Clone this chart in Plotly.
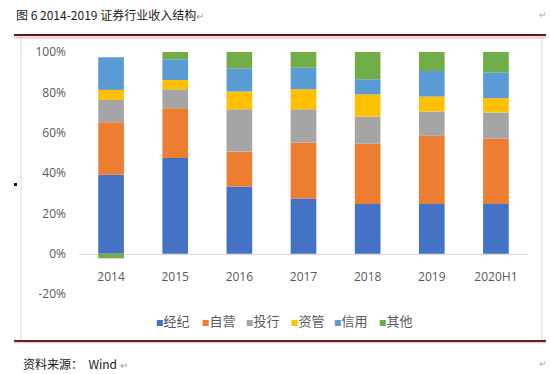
import plotly.graph_objects as go

categories = ["2014", "2015", "2016", "2017", "2018", "2019", "2020H1"]
brokerage = [39.1, 47.4, 33.3, 27.4, 24.6, 24.6, 24.6]      # 经纪
proprietary = [26.1, 24.7, 17.3, 27.7, 30.0, 33.8, 32.5]    # 自营
inv_banking = [11.0, 9.4, 21.0, 16.5, 13.4, 12.1, 12.9]     # 投行
asset_mgmt = [5.0, 4.6, 8.8, 9.9, 11.0, 7.4, 7.1]           # 资管
credit = [16.2, 10.3, 11.5, 10.7, 7.5, 12.7, 12.8]          # 信用
other = [-2.3, 3.6, 8.1, 7.8, 13.5, 9.4, 10.1]              # 其他

series_names = ["经纪", "自营", "投行", "资管", "信用", "其他"]
series_values = [brokerage, proprietary, inv_banking, asset_mgmt, credit, other]
colors = ["#4472C4", "#ED7D31", "#A5A5A5", "#FFC000", "#5B9BD5", "#70AD47"]
y_ticks = [-20, 0, 20, 40, 60, 80, 100]
y_ticktext = ["-20%", "0%", "20%", "40%", "60%", "80%", "100%"]

W, H = 550, 374
ML, MR, MT, MB = 79, 22, 52, 80
PW, PH = W - ML - MR, H - MT - MB


def px(x):
    return (x - ML) / PW


def py(y):
    return (H - MB - y) / PH


fig = go.Figure()
for name, vals, col in zip(series_names, series_values, colors):
    fig.add_trace(go.Bar(x=categories, y=vals, name=name,
                         marker=dict(color=col, line=dict(width=0)), showlegend=False))

# legend entries: small coloured square glyph followed by the series name
legend_square_x = [156, 202, 246, 291, 334, 379]
leg_layout = {}
for i, (name, col) in enumerate(zip(series_names, colors)):
    lname = "legend" if i == 0 else f"legend{i+1}"
    label = f"<span style='color:{col};font-size:7.5px'>■</span>{name}"
    fig.add_trace(go.Scatter(x=[None], y=[None], mode="markers", name=label,
                             marker=dict(symbol="square", size=0, color="rgba(0,0,0,0)",
                                         line=dict(width=0)),
                             legend=lname, showlegend=True))
    leg_layout[lname] = dict(x=px(legend_square_x[i] - 40), xanchor="left", y=py(321), yanchor="middle",
                             orientation="h", bgcolor="rgba(0,0,0,0)", borderwidth=0,
                             font=dict(family="Noto Sans CJK SC", size=13, color="#595959"))

shapes = [
    # chart box
    dict(type="rect", xref="paper", yref="paper", x0=px(21), x1=px(542), y0=py(341), y1=py(36),
         line=dict(color="#d9d9d9", width=1), layer="below"),
    # top rule
    dict(type="line", xref="paper", yref="paper", x0=px(14), x1=px(546), y0=py(37.5), y1=py(37.5),
         line=dict(color="#f4c7c7", width=2)),
    dict(type="line", xref="paper", yref="paper", x0=px(14), x1=px(546), y0=py(35), y1=py(35),
         line=dict(color="#5e1a1f", width=2)),
    # bottom rule
    dict(type="line", xref="paper", yref="paper", x0=px(14), x1=px(546), y0=py(342.5), y1=py(342.5),
         line=dict(color="#f4c7c7", width=1.5)),
    dict(type="line", xref="paper", yref="paper", x0=px(14), x1=px(546), y0=py(341), y1=py(341),
         line=dict(color="#6b1a20", width=2)),
    # small black mark
    dict(type="rect", xref="paper", yref="paper", x0=px(14), x1=px(17), y0=py(186), y1=py(183),
         fillcolor="#111", line=dict(width=0)),
]

annotations = [
    dict(xref="paper", yref="paper", x=px(14), y=py(15), xanchor="left", yanchor="middle",
         text="图 6 2014-2019 证券行业收入结构<span style='color:#999;font-size:10px'>↵</span>",
         showarrow=False, font=dict(family="Noto Sans CJK SC", size=12, color="#1a1a1a")),
    dict(xref="paper", yref="paper", x=px(21), y=py(363), xanchor="left", yanchor="middle",
         text="资料来源：  Wind <span style='color:#999;font-size:10px'>↵</span>",
         showarrow=False, font=dict(family="Noto Sans CJK SC", size=12, color="#1a1a1a")),
    dict(xref="paper", yref="paper", x=px(549), y=py(15), xanchor="right", yanchor="middle",
         text="↵", showarrow=False, font=dict(family="Noto Sans CJK SC", size=9, color="#aaa")),
    dict(xref="paper", yref="paper", x=px(549), y=py(363), xanchor="right", yanchor="middle",
         text="↵", showarrow=False, font=dict(family="Noto Sans CJK SC", size=9, color="#aaa")),
]

fig.update_layout(
    width=W, height=H,
    margin=dict(l=ML, r=MR, t=MT, b=MB, pad=0),
    paper_bgcolor="white", plot_bgcolor="white",
    barmode="relative", bargap=0.6,
    shapes=shapes, annotations=annotations,
    **leg_layout,
)
fig.update_xaxes(type="category", anchor="free", position=20 / 120, showline=True,
                 linecolor="#d9d9d9", linewidth=1, layer="below traces", ticks="",
                 showgrid=False, zeroline=False, ticklabelstandoff=12,
                 tickfont=dict(family="Open Sans", size=12, color="#595959"))
fig.update_yaxes(range=[-20, 100], tickmode="array", tickvals=y_ticks, ticktext=y_ticktext,
                 showgrid=False, zeroline=False, showline=False, ticks="", ticklabelstandoff=12,
                 tickfont=dict(family="Open Sans", size=12, color="#595959"))

fig.write_html("out.html", config={"displayModeBar": False},
               post_script="document.body.style.margin='0';document.body.style.padding='0';")
